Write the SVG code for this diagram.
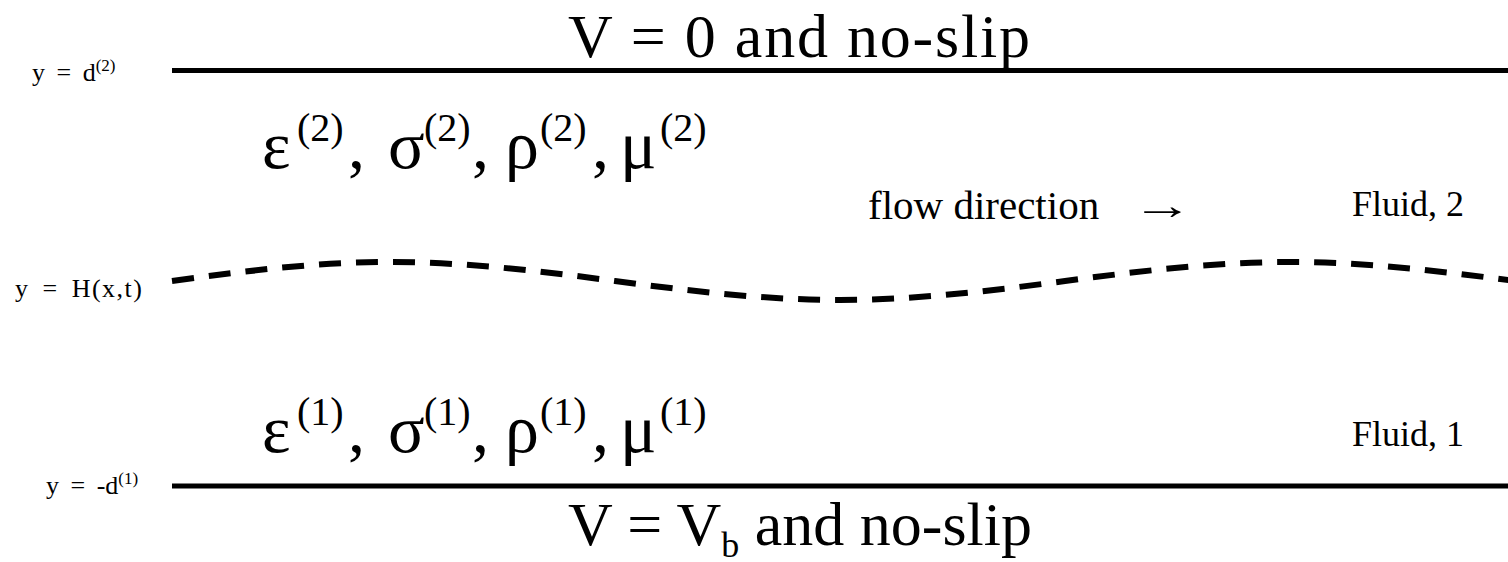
<svg xmlns="http://www.w3.org/2000/svg" width="1508" height="562" viewBox="0 0 1508 562">
<style>
text{font-family:"Liberation Serif","Times New Roman",serif;fill:#000}
.big{font-size:62px}
.greek{font-size:68px}
.gsup{font-size:40px}
.sub{font-size:36px}
.mid{font-size:41px}
.fl{font-size:36px}
.lab{font-size:26px;word-spacing:5px}
.labsup{font-size:17px}
.wall{stroke:#000;stroke-width:5;fill:none}
.iface{stroke:#000;stroke-width:6;fill:none;stroke-dasharray:22 15}
</style>
<rect width="1508" height="562" fill="#fff"/>
<g id="top-wall">
<line class="wall" x1="172" y1="70.5" x2="1508" y2="70.5"/>
<text class="big" x="568" y="57" textLength="462" lengthAdjust="spacing">V = 0 and no-slip</text>
<text class="lab" x="32" y="81">y = d<tspan class="labsup" dy="-10">(2)</tspan></text>
</g>
<g id="bottom-wall">
<line class="wall" x1="172" y1="486" x2="1508" y2="486"/>
<text class="big" x="568" y="545">V = V<tspan class="sub" dy="12">b</tspan><tspan dy="-12"> and no-slip</tspan></text>
<text class="lab" x="46" y="494">y = -d<tspan class="labsup" dy="-10">(1)</tspan></text>
</g>
<g id="interface">
<path class="iface" d="M172,281 C246,271 315,262 390,262 C465,262 540,271 615,281 C690,291 765,300 840,300 C915,300 990,291 1065,281 C1140,271 1215,262 1290,262 C1365,262 1440,271 1515,281"/>
<text class="lab" x="15" y="297" textLength="127" lengthAdjust="spacing">y = H(x,t)</text>
</g>
<g id="fluid2">
<text class="greek" y="168"><tspan x="262">ε</tspan><tspan class="gsup" x="297" y="141">(2)</tspan><tspan x="348" y="168">,</tspan><tspan x="388">σ</tspan><tspan class="gsup" x="424" y="141">(2)</tspan><tspan x="472" y="168">,</tspan><tspan x="505">ρ</tspan><tspan class="gsup" x="540" y="141">(2)</tspan><tspan x="592" y="168">,</tspan><tspan x="620">μ</tspan><tspan class="gsup" x="660" y="141">(2)</tspan></text>
<text class="mid" x="868" y="219">flow direction</text>
<text class="mid" transform="translate(1132,219) scale(1.5,1)" x="0" y="0">→</text>
<text class="fl" x="1352" y="216">Fluid, 2</text>
</g>
<g id="fluid1">
<text class="greek" y="452"><tspan x="262">ε</tspan><tspan class="gsup" x="297" y="425">(1)</tspan><tspan x="348" y="452">,</tspan><tspan x="388">σ</tspan><tspan class="gsup" x="424" y="425">(1)</tspan><tspan x="472" y="452">,</tspan><tspan x="505">ρ</tspan><tspan class="gsup" x="540" y="425">(1)</tspan><tspan x="592" y="452">,</tspan><tspan x="620">μ</tspan><tspan class="gsup" x="660" y="425">(1)</tspan></text>
<text class="fl" x="1352" y="446">Fluid, 1</text>
</g>
</svg>
